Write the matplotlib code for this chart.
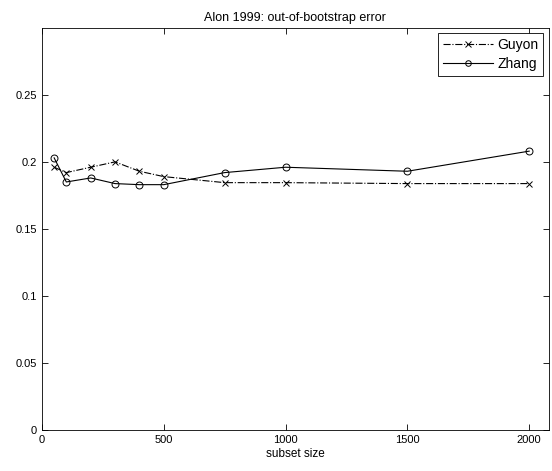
import numpy as np
import matplotlib
matplotlib.use('Agg')
import matplotlib.pyplot as plt

plt.rcParams['font.family'] = ['Liberation Sans', 'DejaVu Sans']
plt.rcParams['font.size'] = 8

subset = [50, 100, 200, 300, 400, 500, 750, 1000, 1500, 2000]
guyon = [0.196, 0.192, 0.196, 0.200, 0.193, 0.189, 0.1845, 0.1845, 0.1838, 0.1838]
zhang = [0.203, 0.185, 0.188, 0.1838, 0.183, 0.183, 0.192, 0.196, 0.193, 0.208]

fig = plt.figure(figsize=(5.52, 4.71), dpi=100)
ax = fig.add_axes([0.076, 0.087, 0.918, 0.854])

ax.plot(subset, guyon, '-.x', color='k', lw=0.8, ms=5, mew=0.7, label='Guyon')
ax.plot(subset, zhang, '-o', color='k', lw=0.8, ms=5, mew=0.7, mfc='none', label='Zhang')

ax.set_xlim(0, 2080)
ax.set_ylim(0, 0.3)
ax.set_xticks([0, 500, 1000, 1500, 2000])
ax.set_yticks([0, 0.05, 0.1, 0.15, 0.2, 0.25])
ax.set_yticklabels(['0', '0.05', '0.1', '0.15', '0.2', '0.25'])
ax.tick_params(direction='in', top=True, right=True, length=4, width=0.6)
for s in ax.spines.values():
    s.set_linewidth(0.6)

ax.set_xlabel('subset size', fontsize=8.5, labelpad=2)
ax.set_title('Alon 1999: out-of-bootstrap error', fontsize=9, pad=5)

leg = ax.legend(loc='upper right', fancybox=False, edgecolor='k', framealpha=1,
                fontsize=10, handlelength=3.6, markerscale=0.8, labelspacing=0.35,
                borderaxespad=0.4, borderpad=0.35, handletextpad=0.3)
leg.get_frame().set_linewidth(0.6)

fig.savefig('out.png', dpi=100)
